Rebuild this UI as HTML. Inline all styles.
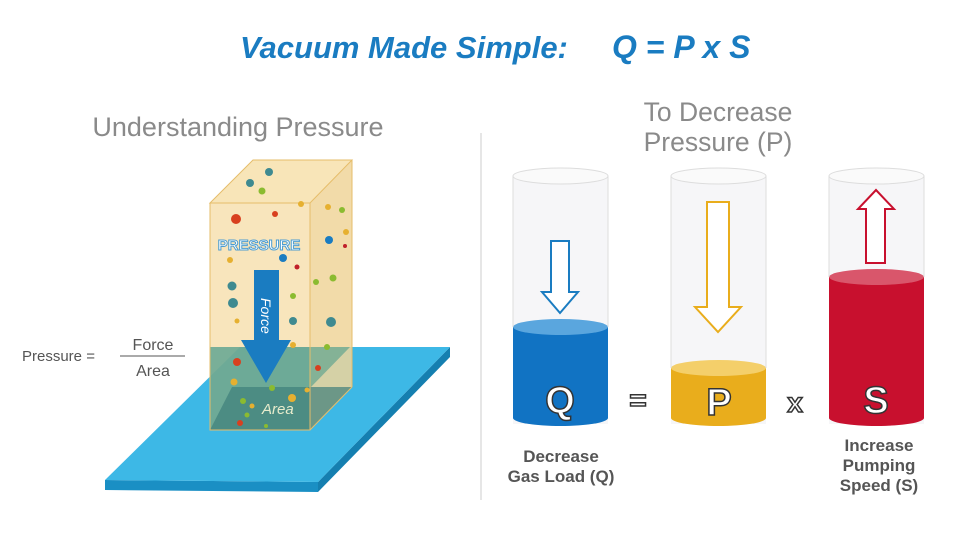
<!DOCTYPE html>
<html><head><meta charset="utf-8"><style>
html,body{margin:0;padding:0;background:#fff}
svg{display:block}
text{font-family:"Liberation Sans",sans-serif}
</style></head><body>
<svg width="960" height="540" viewBox="0 0 960 540">
<text x="240" y="58" font-size="31" font-weight="bold" font-style="italic" fill="#1a7cc1">Vacuum Made Simple:</text>
<text x="612" y="58" font-size="32" font-weight="bold" font-style="italic" fill="#1a7cc1">Q = P x S</text>
<line x1="481" y1="133" x2="481" y2="500" stroke="#ccc" stroke-width="1"/>
<text x="238" y="136" text-anchor="middle" font-size="27" fill="#8a8a8a">Understanding Pressure</text>
<text x="718" y="121" text-anchor="middle" font-size="26.5" fill="#8a8a8a">To Decrease</text>
<text x="718" y="151" text-anchor="middle" font-size="26.5" fill="#8a8a8a">Pressure (P)</text>
<text x="22" y="361" font-size="15" fill="#555">Pressure =</text>
<text x="153" y="350" text-anchor="middle" font-size="16" fill="#555">Force</text>
<line x1="120" y1="356" x2="185" y2="356" stroke="#777" stroke-width="1.2"/>
<text x="153" y="376" text-anchor="middle" font-size="16" fill="#555">Area</text>
<polygon points="105,480 318,482 318,492 105,490" fill="#1a8fc4"/>
<polygon points="318,482 450,347 450,357 318,492" fill="#157fb0"/>
<polygon points="105,480 240,347 450,347 318,482" fill="#3db8e6"/>
<polygon points="310,203 352,160 352,387 310,430" fill="#f0d59a" opacity="0.85"/>
<polygon points="210,203 253,160 352,160 310,203" fill="#f7e2b0" opacity="0.9"/>
<rect x="210" y="203" width="100" height="227" fill="#f5dca5" opacity="0.75"/>
<polygon points="210,347 310,347 310,430 210,430" fill="#4f9c8c" opacity="0.75"/>
<polygon points="310,347 350,347 310,388" fill="#4f9c8c" opacity="0.6"/>
<polygon points="232,387 352,387 310,430 210,430" fill="#3f7f7a" opacity="0.7"/>
<g stroke="#e6bd6a" stroke-width="1" fill="none"><polygon points="210,203 253,160 352,160 310,203"/><rect x="210" y="203" width="100" height="227"/><line x1="352" y1="160" x2="352" y2="387"/><line x1="352" y1="387" x2="310" y2="430"/></g>
<g>
<circle cx="269" cy="172" r="4" fill="#3f8a90"/><circle cx="250" cy="183" r="4" fill="#3f8a90"/><circle cx="262" cy="191" r="3.5" fill="#8bbb30"/><circle cx="236" cy="219" r="5" fill="#d8401f"/><circle cx="275" cy="214" r="3" fill="#d8401f"/><circle cx="301" cy="204" r="3" fill="#e6b030"/><circle cx="328" cy="207" r="3" fill="#e6b030"/><circle cx="342" cy="210" r="3" fill="#8bbb30"/><circle cx="329" cy="240" r="4" fill="#1a7cc1"/><circle cx="346" cy="232" r="3" fill="#e6b030"/><circle cx="283" cy="258" r="4" fill="#1a7cc1"/><circle cx="230" cy="260" r="3" fill="#e6b030"/><circle cx="297" cy="267" r="2.5" fill="#c0202a"/><circle cx="232" cy="286" r="4.5" fill="#3f8a90"/><circle cx="233" cy="303" r="5" fill="#3f8a90"/><circle cx="333" cy="278" r="3.5" fill="#8bbb30"/><circle cx="316" cy="282" r="3" fill="#8bbb30"/><circle cx="293" cy="296" r="3" fill="#8bbb30"/><circle cx="331" cy="322" r="5" fill="#3f8a90"/><circle cx="293" cy="321" r="4" fill="#3f8a90"/><circle cx="237" cy="321" r="2.5" fill="#e6b030"/><circle cx="293" cy="345" r="3" fill="#e6b030"/><circle cx="327" cy="347" r="3" fill="#8bbb30"/><circle cx="237" cy="362" r="4" fill="#d8401f"/><circle cx="318" cy="368" r="3" fill="#d8401f"/><circle cx="234" cy="382" r="3.5" fill="#e6b030"/><circle cx="272" cy="388" r="3" fill="#8bbb30"/><circle cx="292" cy="398" r="4" fill="#e6b030"/><circle cx="307" cy="390" r="2.5" fill="#e6b030"/><circle cx="243" cy="401" r="3" fill="#8bbb30"/><circle cx="252" cy="406" r="2.5" fill="#e6b030"/><circle cx="240" cy="423" r="3" fill="#d8401f"/><circle cx="247" cy="415" r="2.5" fill="#8bbb30"/><circle cx="266" cy="426" r="2" fill="#8bbb30"/><circle cx="345" cy="246" r="2" fill="#c0202a"/>
</g>
<text x="259" y="250" text-anchor="middle" font-size="15" font-weight="bold" fill="#fff" stroke="#4b9cd0" stroke-width="1">PRESSURE</text>
<polygon points="254,270 279,270 279,340 291,340 266,383 241,340 254,340" fill="#1a7cc1"/>
<text transform="translate(261,298) rotate(90)" font-size="14" font-style="italic" fill="#fff">Force</text>
<text x="262" y="414" font-size="15" font-style="italic" fill="#e8eccc">Area</text>
<g>
<rect x="513" y="176" width="95" height="248" fill="#f6f6f8"/>
<path d="M513,327 L513,418 A47.5,8 0 0 0 608,418 L608,327 Z" fill="#1173c3"/>
<ellipse cx="560.5" cy="327" rx="47.5" ry="8" fill="#5aa6de"/>
<ellipse cx="560.5" cy="176" rx="47.5" ry="8" fill="#fafafa" stroke="#ddd"/>
<line x1="513" y1="176" x2="513" y2="327" stroke="#ddd"/><line x1="608" y1="176" x2="608" y2="327" stroke="#ddd"/>
<polygon points="551,241 569,241 569,292 578,292 560,313 542,292 551,292" fill="#fff" stroke="#1a7cc1" stroke-width="2"/>
<rect x="671" y="176" width="95" height="248" fill="#f6f6f8"/>
<path d="M671,368 L671,418 A47.5,8 0 0 0 766,418 L766,368 Z" fill="#e9ad1c"/>
<ellipse cx="718.5" cy="368" rx="47.5" ry="8" fill="#f4cf6a"/>
<ellipse cx="718.5" cy="176" rx="47.5" ry="8" fill="#fafafa" stroke="#ddd"/>
<line x1="671" y1="176" x2="671" y2="368" stroke="#ddd"/><line x1="766" y1="176" x2="766" y2="368" stroke="#ddd"/>
<polygon points="707,202 729,202 729,307 741,307 718,332 695,307 707,307" fill="#fff" stroke="#e9ad1c" stroke-width="2"/>
<rect x="829" y="176" width="95" height="248" fill="#f6f6f8"/>
<path d="M829,277 L829,418 A47.5,8 0 0 0 924,418 L924,277 Z" fill="#c8102e"/>
<ellipse cx="876.5" cy="277" rx="47.5" ry="8" fill="#d9566b"/>
<ellipse cx="876.5" cy="176" rx="47.5" ry="8" fill="#fafafa" stroke="#ddd"/>
<line x1="829" y1="176" x2="829" y2="277" stroke="#ddd"/><line x1="924" y1="176" x2="924" y2="277" stroke="#ddd"/>
<polygon points="866,263 885,263 885,209 894,209 876,190 858,209 866,209" fill="#fff" stroke="#c8102e" stroke-width="2"/>
</g>
<g font-size="38" font-weight="bold" fill="#fff" stroke="#333" stroke-width="1.5" text-anchor="middle">
<text x="560" y="413">Q</text><text x="719" y="415">P</text><text x="876" y="413">S</text>
<text x="638" y="410" font-size="30">=</text><text x="795" y="412" font-size="28">x</text>
</g>
<g font-size="17" font-weight="bold" fill="#555" text-anchor="middle">
<text x="561" y="462">Decrease</text><text x="561" y="482">Gas Load (Q)</text>
<text x="879" y="451">Increase</text><text x="879" y="471">Pumping</text><text x="879" y="491">Speed (S)</text>
</g>
</svg>
</body></html>
